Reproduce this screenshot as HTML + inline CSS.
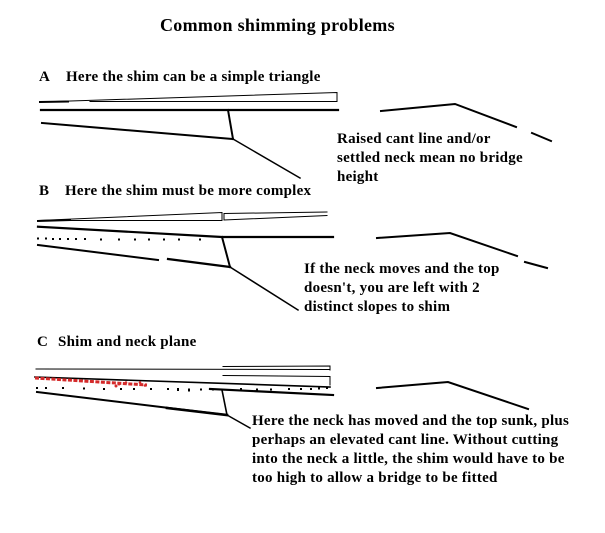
<!DOCTYPE html>
<html>
<head>
<meta charset="utf-8">
<style>
  html,body{margin:0;padding:0;background:#fff;}
  svg{display:block;}
  text{font-family:"Liberation Serif",serif;font-weight:bold;fill:#000;}
</style>
</head>
<body>
<svg width="605" height="533" viewBox="0 0 605 533" xmlns="http://www.w3.org/2000/svg">
  <rect width="605" height="533" fill="#fff"/>

  <!-- Title -->
  <text x="160" y="31" font-size="18" letter-spacing="0.3">Common shimming problems</text>

  <!-- Section labels -->
  <g font-size="15" letter-spacing="0.25">
    <text x="39" y="81">A</text>
    <text x="66" y="81">Here the shim can be a simple triangle</text>
    <text x="39" y="195">B</text>
    <text x="65" y="195">Here the shim must be more complex</text>
    <text x="37" y="346">C</text>
    <text x="58" y="346">Shim and neck plane</text>
  </g>

  <!-- Descriptions -->
  <g font-size="15" letter-spacing="0.25">
    <text x="337" y="143">Raised cant line and/or</text>
    <text x="337" y="162">settled neck mean no bridge</text>
    <text x="337" y="181">height</text>

    <text x="304" y="273">If the neck moves and the top</text>
    <text x="304" y="292">doesn't, you are left with 2</text>
    <text x="304" y="311">distinct slopes to shim</text>

    <text x="252" y="425">Here the neck has moved and the top sunk, plus</text>
    <text x="252" y="444">perhaps an elevated cant line. Without cutting</text>
    <text x="252" y="463">into the neck a little, the shim would have to be</text>
    <text x="252" y="482">too high to allow a bridge to be fitted</text>
  </g>

  <g stroke="#000" fill="none" stroke-linecap="square">
    <!-- ===== A ===== -->
    <path d="M40,102 L337,92.5 L337,101.5 L90,101.5" stroke-width="1"/>
    <path d="M40,102 L68,101.5" stroke-width="2"/>
    <path d="M41,110 L338,110" stroke-width="2.2"/>
    <path d="M42,123 L233,139" stroke-width="2"/>
    <path d="M228,110 L233,139" stroke-width="2"/>
    <path d="M233,139 L300,178" stroke-width="1.5"/>
    <!-- A right -->
    <path d="M381,111 L455,104 L516,127" stroke-width="2"/>
    <path d="M532,133 L551,141" stroke-width="2"/>

    <!-- ===== B ===== -->
    <path d="M38,220.5 L222,212.5 L222,220.5 L38,220.5" stroke-width="1"/>
    <path d="M38,221 L70,220" stroke-width="2"/>
    <path d="M224,213.5 L327,212 M224,213.5 L224,220 L327,215.5" stroke-width="1"/>
    <path d="M38,226.7 L222,237 L333,237" stroke-width="2.2"/>
    <path d="M38,245 L158,260" stroke-width="2"/>
    <path d="M168,259 L230,267" stroke-width="2.2"/>
    <path d="M222,237 L230,267" stroke-width="2"/>
    <path d="M230,267 L298,310" stroke-width="1.5"/>
    <!-- B right -->
    <path d="M377,238 L450,233 L517,256" stroke-width="2"/>
    <path d="M525,262 L547,268" stroke-width="2"/>

    <!-- ===== C ===== -->
    <path d="M36,369 L330,369.5" stroke-width="1"/>
    <path d="M223,366.5 L330,366 L330,370" stroke-width="1"/>
    <path d="M223,375.5 L330,376.5 L330,385" stroke-width="1"/>
    <path d="M35,377 L330,387" stroke-width="1.6"/>
    <path d="M210,389 L333,395" stroke-width="2.2"/>
    <path d="M37,392 L227,415" stroke-width="2"/>
    <path d="M167,408 L227,415" stroke-width="2.6"/>
    <path d="M222,390 L227,415" stroke-width="1.6"/>
    <path d="M227,415 L250,428" stroke-width="1.5"/>
    <!-- C right -->
    <path d="M377,388 L448,382 L528,409" stroke-width="2"/>
  </g>

  <!-- dots B -->
  <g fill="#000">
    <rect x="37" y="237.5" width="2" height="2"/>
    <rect x="45" y="237.5" width="2" height="2"/>
    <rect x="52" y="238" width="2" height="2"/>
    <rect x="59" y="238" width="2" height="2"/>
    <rect x="67" y="238" width="2" height="2"/>
    <rect x="75" y="238" width="2" height="2"/>
    <rect x="84" y="238" width="2" height="2"/>
    <rect x="100" y="238.5" width="2" height="2"/>
    <rect x="118" y="238.5" width="2" height="2"/>
    <rect x="134" y="238.5" width="2" height="2"/>
    <rect x="148" y="238.5" width="2" height="2"/>
    <rect x="163" y="238.5" width="2" height="2"/>
    <rect x="178" y="238.5" width="2" height="2"/>
    <rect x="199" y="238.5" width="2" height="2"/>
  </g>

  <!-- dots C -->
  <g fill="#000">
    <rect x="36" y="387" width="2" height="2"/>
    <rect x="45" y="387" width="2" height="2"/>
    <rect x="62" y="387" width="2" height="2"/>
    <rect x="83" y="387.5" width="2" height="2"/>
    <rect x="103" y="388" width="2" height="2"/>
    <rect x="120" y="388" width="2" height="2"/>
    <rect x="133" y="388" width="2" height="2"/>
    <rect x="150" y="388" width="2" height="2"/>
    <rect x="167" y="388" width="2" height="2"/>
    <rect x="177" y="388" width="2" height="3"/>
    <rect x="188" y="388.5" width="2" height="3"/>
    <rect x="200" y="388.5" width="2" height="2"/>
    <rect x="212" y="388.5" width="2" height="2"/>
    <rect x="240" y="388" width="2" height="2"/>
    <rect x="256" y="388.5" width="2" height="2"/>
    <rect x="270" y="388.5" width="2" height="2"/>
    <rect x="288" y="388" width="2" height="2"/>
    <rect x="300" y="388" width="2" height="2"/>
    <rect x="310" y="388" width="2" height="2"/>
    <rect x="318" y="387.5" width="2" height="2"/>
    <rect x="326" y="387" width="2" height="2"/>
  </g>

  <!-- red streak C -->
  <g>
    <path d="M35,378 L147,385" stroke="#d42a2a" stroke-width="3" stroke-dasharray="4 1.5" fill="none"/>
    <g fill="#d42a2a">
      <circle cx="116" cy="386" r="1.5"/>
      <circle cx="119" cy="384" r="1.5"/>
      <circle cx="126" cy="382.5" r="1.3"/>
      <circle cx="140" cy="382.5" r="1.3"/>
      <circle cx="145" cy="385.5" r="1.3"/>
    </g>
  </g>
</svg>
</body>
</html>
